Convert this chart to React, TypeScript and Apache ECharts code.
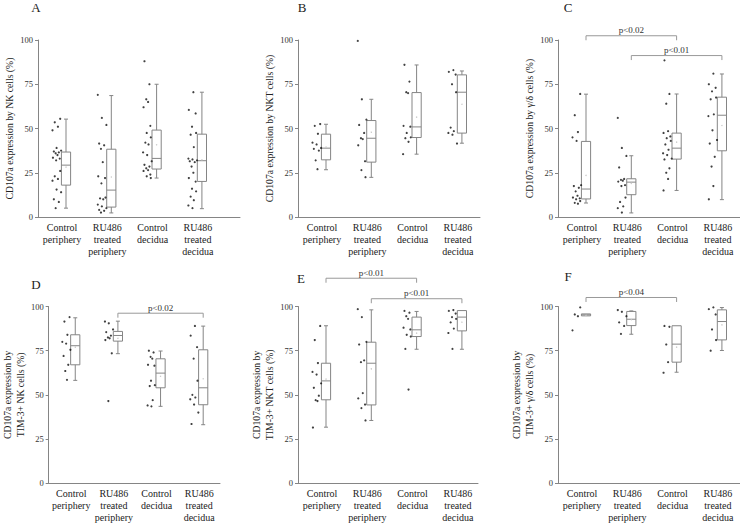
import React, { useEffect, useRef } from 'react';
import * as echarts from 'echarts';

const FONT = '"Liberation Serif", "Times New Roman", serif';

const CATEGORIES = ['Control\nperiphery', 'RU486\ntreated\nperiphery', 'Control\ndecidua', 'RU486\ntreated\ndecidua'];
const Y_TICKS = [0, 25, 50, 75, 100];
const PANEL_LETTERS = ['A', 'B', 'C', 'D', 'E', 'F'];
const Y_NAMES = [
  'CD107a expression by NK cells (%)',
  'CD107a expression by NKT cells (%)',
  'CD107a expression by γ/δ cells (%)',
  'CD107a expression by\nTIM-3+ NK cells (%)',
  'CD107a expression by\nTIM-3+ NKT cells (%)',
  'CD107a expression by\nTIM-3+ γ/δ cells (%)',
];

// box stats per category: [min, q1, median, q3, max, mean]
const A_STATS = [
  [5, 18, 29.3, 36.7, 55.3, 28.2],
  [2.3, 5.6, 15.2, 38.3, 68.6, 22.6],
  [22, 27.1, 33.1, 49.1, 75, 40.8],
  [4.7, 20.1, 31.8, 46.8, 70.5, 32.3],
];
const A_POINTS = [
  [55.5, 53.5, 51, 49, 39, 37.5, 37, 36.5, 36, 35, 33.5, 33, 32, 26, 23, 21.5, 20.5, 15.5, 14, 10, 8.5, 5],
  [69, 56, 52, 41.5, 40.5, 38.5, 31, 23, 22, 19, 11, 10.5, 10, 7, 6, 5, 4, 3.5, 2.5],
  [88, 75, 66.5, 65, 62, 51.5, 47.5, 45, 42, 41, 36.5, 35, 31.5, 29.5, 28.5, 27.5, 26.5, 26, 24, 23, 22],
  [70.5, 60.5, 58.5, 51, 47.5, 46.5, 39.5, 33, 32.5, 32, 31.5, 31, 28.5, 25, 22, 20, 16, 14.5, 11.5, 9.5, 6.5, 5],
];

const B_STATS = [
  [26.7, 32.3, 38.9, 46.8, 52.4, 39.5],
  [22.4, 31, 44.5, 54.5, 66.5, 47.9],
  [35.5, 44.9, 50.9, 70.3, 85.9, 56.4],
  [41.7, 47.4, 70.5, 80.3, 82.5, 63.7],
];
const B_POINTS = [
  [52.5, 51.5, 47, 42, 41, 39, 38.5, 37.5, 32, 27],
  [99.5, 66.5, 55, 52, 47.5, 44.5, 44, 40.5, 31.5, 26.5, 22.5],
  [86, 76.5, 70.5, 70, 51.5, 51, 47.5, 45, 44.5, 42.5, 35.5],
  [83, 82, 80.5, 75, 70.5, 50.5, 48.5, 47.5, 46.5, 41.5],
];

const C_STATS = [
  [7.9, 10.2, 15.8, 42.7, 69.4, 23.5],
  [2.3, 12.6, 19.7, 21.6, 34.6, 19],
  [15, 32.7, 38.9, 47.4, 69.5, 42.3],
  [9.8, 37.4, 57.5, 67.7, 80.8, 51.7],
];
const C_POINTS = [
  [69.5, 57.5, 48, 45, 43, 18, 17.5, 16.5, 14.5, 12, 11, 10.5, 10, 9, 8, 7.5],
  [56, 39, 34.5, 28, 21.5, 21, 20.5, 20, 18, 17.5, 11, 8.5, 6, 5, 2.5],
  [88.5, 69.5, 64, 48.5, 47.5, 45.5, 44.5, 43, 41, 38, 36, 35, 33, 32.5, 27.5, 25, 21.5, 15],
  [81, 75, 73, 71, 67.5, 66.5, 58, 57, 49, 43.5, 41.5, 34, 28.5, 17.5, 10],
];

const D_STATS = [
  [58.2, 67, 77.8, 84, 93.6, 77],
  [73.3, 80.4, 83.6, 85.9, 91.7, 82],
  [43.5, 54, 62.3, 70.4, 74.8, 60.5],
  [33.1, 44.4, 54, 75.5, 88.9, 59.1],
];
const D_POINTS = [
  [94, 91.5, 84, 80, 79, 75.5, 72, 67, 63.5, 58.5],
  [91.5, 90.5, 87, 85.5, 83.5, 82.5, 82, 81, 73.5, 46.5],
  [75, 74, 71.5, 70.5, 67, 66.5, 58, 55.5, 55, 47, 44, 43.5],
  [89, 83.5, 77, 70.5, 58, 50, 48.5, 47.5, 44.5, 40, 33.5],
];

const E_STATS = [
  [31.7, 47.2, 57.9, 67.9, 89.1, 58.9],
  [35.5, 44.3, 67.9, 79.8, 98.1, 64.7],
  [75.8, 83, 86.8, 94, 97.2, 84.9],
  [75.8, 86.2, 94, 97.7, 97.7, 91.1],
];
const E_POINTS = [
  [89, 81, 68, 63, 61.5, 56.5, 54, 49.5, 47, 46.5, 31.5],
  [98.5, 94, 80, 78.5, 69.5, 68.5, 51, 48, 44.5, 42.5, 35.5],
  [97.5, 96.5, 94.5, 93, 88, 87, 84, 83, 76, 53],
  [98, 97.5, 96, 94, 93, 91, 87.5, 85, 76],
];

const F_STATS = [
  [94.7, 94.7, 95.3, 95.8, 95.8, 95],
  [84.3, 89.2, 92.8, 97.2, 97.5, 92.5],
  [62.8, 68.5, 78.7, 89.1, 89.1, 77],
  [75.1, 81.1, 91.5, 98.1, 99.4, 89.6],
];
const F_POINTS = [
  [99.5, 95.5, 94.5, 86.5],
  [98, 97, 94.5, 91, 89, 84.5],
  [89, 88.5, 78.5, 68.5, 62.5],
  [99.5, 98.5, 95.5, 87, 81, 75],
];

// brackets: [fromCategory, toCategory, yValue, label]
const A_BRACKETS: any[] = [];
const B_BRACKETS: any[] = [];
const C_BRACKETS = [[1, 3, 102.4, 'p<0.02'], [2, 4, 91.2, 'p<0.01']];
const D_BRACKETS = [[2, 4, 96.2, 'p<0.02']];
const E_BRACKETS = [[1, 3, 116, 'p<0.01'], [2, 4, 104.4, 'p<0.01']];
const F_BRACKETS = [[1, 3, 105.1, 'p<0.04']];

const ALL_STATS = [A_STATS, B_STATS, C_STATS, D_STATS, E_STATS, F_STATS];
const ALL_POINTS = [A_POINTS, B_POINTS, C_POINTS, D_POINTS, E_POINTS, F_POINTS];
const ALL_BRACKETS = [A_BRACKETS, B_BRACKETS, C_BRACKETS, D_BRACKETS, E_BRACKETS, F_BRACKETS];

// layout (pixels)
const PX_PER_CAT = 45.3;
const X_MIN = 0.47;
const GRIDS = [
  { left: 38, top: 40, width: 202, height: 177 },
  { left: 298, top: 40, width: 182, height: 177 },
  { left: 558, top: 40, width: 182, height: 177 },
  { left: 38, top: 306.5, width: 182, height: 176.7 },
  { left: 298, top: 306.5, width: 180, height: 176.7 },
  { left: 558, top: 306.5, width: 182, height: 176.7 },
];
const LETTER_POS = [[36, 7], [302, 7], [568, 7], [36, 284], [301, 278], [568, 276]];
const NAME_GAP = [17, 17, 19, 15, 15, 15];
const JITTER = [-0.04, -0.16, -0.09, -0.21, -0.12, -0.02, -0.18, -0.07, -0.14, -0.1, -0.2, -0.05, -0.13];
const BOX_OFFSET = 4; // px right of category centre
const BOX_HALF = 4.6;
const CAP_HALF = 2;
const GRAY = '#858585';

function buildOption() {
  const grid: any[] = [];
  const xAxis: any[] = [];
  const yAxis: any[] = [];
  const series: any[] = [];
  const graphic: any[] = [];

  GRIDS.forEach((g, pi) => {
    grid.push({ left: g.left, top: g.top, width: g.width, height: g.height, containLabel: false });
    xAxis.push({
      type: 'value',
      gridIndex: pi,
      min: X_MIN,
      max: X_MIN + g.width / PX_PER_CAT,
      axisLine: { show: true, onZero: false, lineStyle: { color: GRAY, width: 1 } },
      axisTick: { show: false },
      splitLine: { show: false },
      axisLabel: {
        customValues: [1, 2, 3, 4],
        formatter: (v: number) => CATEGORIES[Math.round(v) - 1] || '',
        fontFamily: FONT,
        fontSize: 10,
        lineHeight: 11.6,
        color: '#222',
        margin: 5,
      },
    });
    yAxis.push({
      type: 'value',
      gridIndex: pi,
      min: Y_TICKS[0],
      max: Y_TICKS[Y_TICKS.length - 1],
      interval: 25,
      axisLine: { show: true, onZero: false, lineStyle: { color: GRAY, width: 1 } },
      axisTick: { show: true, length: 3, lineStyle: { color: GRAY } },
      splitLine: { show: false },
      axisLabel: { fontFamily: FONT, fontSize: 8.5, color: '#333', margin: 5 },
      name: Y_NAMES[pi],
      nameLocation: 'middle',
      nameGap: NAME_GAP[pi],
      nameTextStyle: { fontFamily: FONT, fontSize: 9.7, color: '#222', lineHeight: 13 },
    });

    // boxes
    series.push({
      type: 'custom',
      xAxisIndex: pi,
      yAxisIndex: pi,
      clip: false,
      silent: true,
      data: ALL_STATS[pi].map((s, i) => [i + 1, ...s]),
      renderItem: (params: any, api: any) => {
        const cat = api.value(0);
        const mn = api.value(1), q1 = api.value(2), md = api.value(3), q3 = api.value(4), mx = api.value(5), mean = api.value(6);
        const c = (v: number) => api.coord([cat, v]);
        const cx = c(mn)[0] + BOX_OFFSET;
        const yMn = c(mn)[1], yQ1 = c(q1)[1], yMd = c(md)[1], yQ3 = c(q3)[1], yMx = c(mx)[1], yMean = c(mean)[1];
        const ls = { stroke: GRAY, lineWidth: 1, fill: 'none' };
        const children: any[] = [];
        if (yMn - yQ1 > 0.5) {
          children.push({ type: 'line', shape: { x1: cx, y1: yMn, x2: cx, y2: yQ1 }, style: ls });
          children.push({ type: 'line', shape: { x1: cx - CAP_HALF, y1: yMn, x2: cx + CAP_HALF, y2: yMn }, style: ls });
        }
        if (yQ3 - yMx > 0.5) {
          children.push({ type: 'line', shape: { x1: cx, y1: yQ3, x2: cx, y2: yMx }, style: ls });
          children.push({ type: 'line', shape: { x1: cx - CAP_HALF, y1: yMx, x2: cx + CAP_HALF, y2: yMx }, style: ls });
        }
        children.push({ type: 'rect', shape: { x: cx - BOX_HALF, y: yQ3, width: BOX_HALF * 2, height: yQ1 - yQ3 }, style: ls });
        children.push({ type: 'line', shape: { x1: cx - BOX_HALF, y1: yMd, x2: cx + BOX_HALF, y2: yMd }, style: ls });
        children.push({ type: 'circle', shape: { cx: cx, cy: yMean, r: 0.7 }, style: { fill: '#c8c8c8' } });
        return { type: 'group', children };
      },
      z: 2,
    });

    // points
    const pts: number[][] = [];
    ALL_POINTS[pi].forEach((arr, ci) => {
      arr.forEach((v, k) => pts.push([ci + 1 + JITTER[(k + ci * 3) % JITTER.length], v]));
    });
    series.push({
      type: 'scatter',
      xAxisIndex: pi,
      yAxisIndex: pi,
      data: pts,
      symbol: 'circle',
      symbolSize: 2.2,
      itemStyle: { color: '#111' },
      silent: true,
      z: 3,
    });

    // brackets
    const br = ALL_BRACKETS[pi];
    if (br.length) {
      series.push({
        type: 'custom',
        xAxisIndex: pi,
        yAxisIndex: pi,
        clip: false,
        silent: true,
        data: br.map((b: any) => [b[0], b[1], b[2]]),
        renderItem: (params: any, api: any) => {
          const from = api.value(0), to = api.value(1), yv = api.value(2);
          const p1 = api.coord([from, yv]);
          const p2 = api.coord([to, yv]);
          const x1 = p1[0] + BOX_OFFSET, x2 = p2[0] + BOX_OFFSET, y = p1[1];
          const label = br[params.dataIndex][3];
          return {
            type: 'group',
            children: [
              {
                type: 'polyline',
                shape: { points: [[x1, y + 4.5], [x1, y], [x2, y], [x2, y + 4.5]] },
                style: { stroke: '#999', lineWidth: 1, fill: 'none' },
              },
              {
                type: 'text',
                x: (x1 + x2) / 2,
                y: y - 0.8,
                style: { text: label, align: 'center', verticalAlign: 'bottom', fontFamily: FONT, fontSize: 9, fill: '#333' },
              },
            ],
          };
        },
        z: 4,
      });
    }

    graphic.push({
      type: 'text',
      x: LETTER_POS[pi][0],
      y: LETTER_POS[pi][1],
      style: { text: PANEL_LETTERS[pi], fontFamily: FONT, fontSize: 13, fill: '#222', align: 'center', verticalAlign: 'middle' },
    });
  });

  return {
    animation: false,
    backgroundColor: '#ffffff',
    grid,
    xAxis,
    yAxis,
    series,
    graphic,
  };
}

export default function App() {
  const ref = useRef<HTMLDivElement>(null);
  useEffect(() => {
    document.body.style.margin = '0';
    const chart = echarts.init(ref.current as HTMLDivElement, null, { renderer: 'svg' });
    chart.setOption(buildOption() as any);
    return () => chart.dispose();
  }, []);
  return <div ref={ref} style={{ width: 740, height: 523 }} />;
}
